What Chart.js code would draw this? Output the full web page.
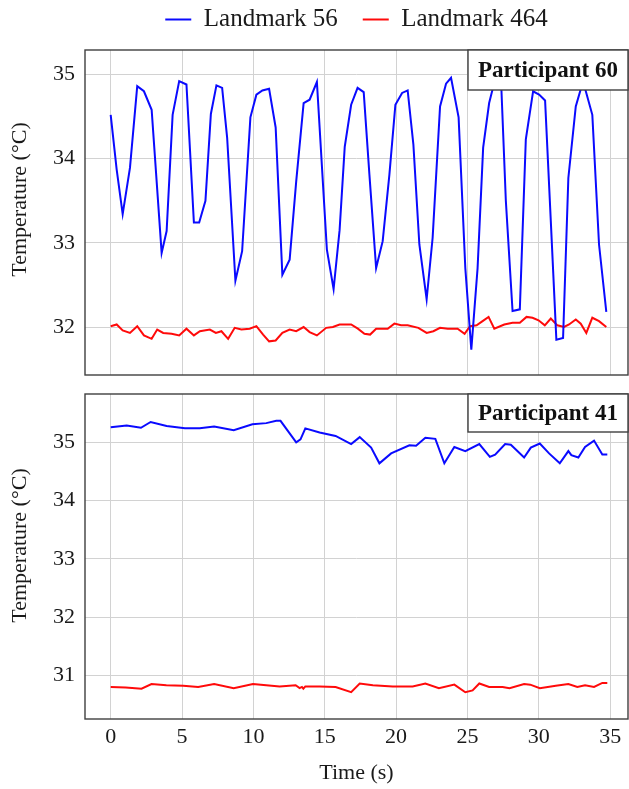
<!DOCTYPE html>
<html>
<head>
<meta charset="utf-8">
<title>Landmark temperatures</title>
<script src="https://cdn.jsdelivr.net/npm/chart.js@4.4.1/dist/chart.umd.min.js"></script>
<style>
    html, body { margin: 0; padding: 0; background: #fff; }
    body { position: relative; width: 629px; height: 789px; overflow: hidden; }
    .panel { position: absolute; left: 0; width: 629px; }
    #panel-top { top: -18px; height: 394px; }
    #panel-bottom { top: 380px; height: 409px; }
</style>
</head>
<body>
<div class="panel" id="panel-top"><canvas id="p60" width="629" height="394"></canvas></div>
<div class="panel" id="panel-bottom"><canvas id="p41" width="629" height="409"></canvas></div>
<script>
const timeTicks = [0, 5, 10, 15, 20, 25, 30, 35];
const p60Ticks = [32, 33, 34, 35];
const p41Ticks = [31, 32, 33, 34, 35];

// Participant 60
const p60Time56 = [0, 0.42, 0.84, 1.35, 1.86, 2.33, 2.87, 3.57, 3.92, 4.34, 4.80, 5.31, 5.83, 6.20, 6.64, 7.02, 7.41, 7.81, 8.16, 8.74,
    9.21, 9.79, 10.21, 10.63, 11.10, 11.56, 12.03, 12.54, 13.00, 13.52, 13.94, 14.45, 15.15, 15.62, 16.04, 16.40, 16.85, 17.30, 17.73,
    18.13, 18.60, 19.06, 19.53, 19.95, 20.42, 20.81, 21.21, 21.63, 22.14, 22.56, 23.08, 23.50, 23.85, 24.38, 24.85, 25.27, 25.71, 26.10,
    26.52, 26.95, 27.38, 27.69, 28.16, 28.67, 29.09, 29.60, 30.02, 30.44, 30.84, 31.23, 31.70, 32.07, 32.59, 33.10, 33.75, 34.22, 34.73];
const p60Temp56 = [34.52, 33.87, 33.34, 33.89, 34.86, 34.80, 34.58, 32.88, 33.14, 34.52, 34.92, 34.88, 33.24, 33.24, 33.50, 34.53, 34.87,
    34.84, 34.25, 32.55, 32.90, 34.49, 34.76, 34.81, 34.83, 34.37, 32.62, 32.80, 33.73, 34.66, 34.70, 34.91, 32.92, 32.45, 33.15, 34.14,
    34.64, 34.84, 34.79, 33.81, 32.70, 33.02, 33.81, 34.64, 34.78, 34.81, 34.17, 32.98, 32.33, 33.06, 34.62, 34.89, 34.96, 34.49, 32.70,
    31.73, 32.70, 34.13, 34.66, 34.95, 34.82, 33.50, 32.19, 32.21, 34.23, 34.80, 34.76, 34.69, 33.26, 31.85, 31.87, 33.77, 34.62, 34.92,
    34.52, 32.98, 32.18];
const p60Time464 = [0, 0.42, 0.84, 1.35, 1.86, 2.33, 2.87, 3.26, 3.68, 4.27, 4.80, 5.31, 5.83, 6.25, 6.95, 7.37, 7.76, 8.23, 8.69, 9.16,
    9.74, 10.21, 10.68, 11.10, 11.56, 12.03, 12.54, 13.00, 13.52, 13.94, 14.45, 15.10, 15.57, 16.04, 16.85, 17.32, 17.78, 18.18, 18.60,
    19.41, 19.88, 20.35, 20.81, 21.56, 22.14, 22.61, 23.08, 23.62, 24.31, 24.80, 25.18, 25.64, 26.06, 26.48, 26.88, 27.58, 28.16, 28.67,
    29.14, 29.56, 29.98, 30.42, 30.84, 31.30, 31.77, 32.12, 32.59, 32.94, 33.33, 33.75, 34.22, 34.73];
const p60Temp464 = [32.01, 32.03, 31.96, 31.93, 32.01, 31.90, 31.86, 31.97, 31.93, 31.92, 31.90, 31.98, 31.90, 31.95, 31.97, 31.93, 31.95,
    31.86, 31.99, 31.97, 31.98, 32.01, 31.91, 31.83, 31.84, 31.93, 31.97, 31.95, 32.00, 31.94, 31.90, 31.99, 32.00, 32.03, 32.03, 31.98,
    31.92, 31.91, 31.98, 31.98, 32.04, 32.02, 32.02, 31.99, 31.93, 31.95, 31.99, 31.98, 31.98, 31.92, 32.01, 32.02, 32.07, 32.12, 31.98,
    32.03, 32.05, 32.05, 32.12, 32.11, 32.08, 32.02, 32.10, 32.02, 32.00, 32.03, 32.09, 32.04, 31.93, 32.11, 32.07, 32.00];

// Participant 41
const p41Time56 = [0, 1.12, 2.12, 2.80, 3.92, 5.20, 6.24, 7.25, 8.62, 9.93, 10.90, 11.60, 11.90, 13.00, 13.30, 13.64, 14.64, 15.76,
    16.85, 17.45, 18.25, 18.83, 19.65, 20.93, 21.40, 22.05, 22.75, 23.38, 24.08, 24.85, 25.83, 26.57, 26.94, 27.64, 28.04, 28.97, 29.44,
    30.07, 30.72, 31.47, 32.07, 32.28, 32.77, 33.24, 33.87, 34.45, 34.80];
const p41Temp56 = [35.26, 35.29, 35.25, 35.35, 35.28, 35.24, 35.24, 35.27, 35.21, 35.31, 35.33, 35.37, 35.37, 35.00, 35.05, 35.24, 35.17,
    35.11, 34.97, 35.09, 34.91, 34.64, 34.81, 34.95, 34.94, 35.08, 35.06, 34.64, 34.92, 34.85, 34.97, 34.75, 34.79, 34.97, 34.96, 34.74,
    34.91, 34.98, 34.81, 34.64, 34.85, 34.78, 34.74, 34.92, 35.03, 34.79, 34.79];
const p41Time464 = [0, 1.05, 2.16, 2.86, 3.90, 5.08, 6.13, 7.25, 8.62, 9.97, 10.90, 11.84, 12.96, 13.24, 13.40, 13.50, 13.64, 14.64,
    15.76, 16.85, 17.45, 18.37, 19.76, 21.16, 22.05, 23.00, 24.08, 24.85, 25.36, 25.83, 26.52, 27.46, 27.95, 28.97, 29.40, 30.07, 31.19,
    32.07, 32.70, 33.24, 33.87, 34.45, 34.80];
const p41Temp464 = [30.80, 30.79, 30.77, 30.85, 30.83, 30.82, 30.80, 30.85, 30.78, 30.85, 30.83, 30.81, 30.83, 30.78, 30.80, 30.77, 30.81,
    30.81, 30.80, 30.71, 30.86, 30.83, 30.81, 30.81, 30.86, 30.78, 30.84, 30.71, 30.74, 30.86, 30.80, 30.80, 30.78, 30.85, 30.84, 30.78,
    30.82, 30.85, 30.80, 30.83, 30.80, 30.87, 30.87];

const FONT = "'Liberation Serif', 'DejaVu Serif', serif";
const INK = '#1a1a1a';
const GRID = '#d2d2d2';

Chart.defaults.font.family = FONT;
Chart.defaults.color = INK;

const toPoints = (times, temps) => times.map((t, i) => ({ x: t, y: temps[i] }));

const series = (label, color, times, temps) => ({
    label,
    data: toPoints(times, temps),
    borderColor: color,
    backgroundColor: color,
    borderWidth: 2,
    pointRadius: 0,
    tension: 0,
});

// frame around the plot area, the rotated y title and the boxed participant tag
const panelFramePlugin = {
    id: 'panelFrame',
    afterDraw(chart, args, options) {
        const { ctx, chartArea } = chart;
        const { left, top, right, bottom } = chartArea;

        ctx.save();
        ctx.strokeStyle = '#3f3f3f';
        ctx.lineWidth = 1.4;
        ctx.strokeRect(left, top, right - left, bottom - top);

        if (options.yTitle) {
            ctx.save();
            ctx.translate(20, (top + bottom) / 2 - (options.yTitleShift ?? 0));
            ctx.rotate(-Math.PI / 2);
            ctx.fillStyle = INK;
            ctx.font = `22px ${FONT}`;
            ctx.textAlign = 'center';
            ctx.textBaseline = 'middle';
            ctx.fillText(options.yTitle, 0, 0);
            ctx.restore();
        }

        if (options.text) {
            const w = options.width ?? 160;
            const h = options.height ?? 40;
            const x = right - w;
            ctx.fillStyle = '#fff';
            ctx.fillRect(x, top, w, h);
            ctx.strokeRect(x, top, w, h);
            ctx.fillStyle = '#111';
            ctx.font = `bold 23px ${FONT}`;
            ctx.textAlign = 'center';
            ctx.textBaseline = 'middle';
            ctx.fillText(options.text, x + w / 2, top + h / 2 + 1);
        }
        ctx.restore();
    },
};

const fixedTicks = (values) => (axis) => {
    axis.ticks = values.map((value) => ({ value }));
};

const yAxis = (min, max, ticks) => ({
    type: 'linear',
    min,
    max,
    afterBuildTicks: fixedTicks(ticks),
    afterFit(axis) {
        axis.width = 85;
        axis.paddingTop = 0;
        axis.paddingBottom = 0;
    },
    grid: { color: GRID, lineWidth: 1, drawTicks: false },
    border: { display: false },
    ticks: { padding: 10, font: { size: 22 }, color: INK },
});

const baseOptions = {
    responsive: false,
    animation: false,
    events: [],
    plugins: {
        tooltip: { enabled: false },
    },
};

new Chart(document.getElementById('p60').getContext('2d'), {
    type: 'line',
    data: {
        datasets: [
            series('Landmark 56', '#0a0aff', p60Time56, p60Temp56),
            series('Landmark 464', '#ff0a0a', p60Time464, p60Temp464),
        ],
    },
    options: {
        ...baseOptions,
        layout: { padding: { left: 0, right: 1, top: 0, bottom: 1 } },
        scales: {
            x: {
                type: 'linear',
                position: 'top',
                min: -1.8,
                max: 36.25,
                afterBuildTicks: fixedTicks(timeTicks),
                afterFit(axis) {
                    axis.height = 8;
                    axis.paddingLeft = 0;
                    axis.paddingRight = 0;
                },
                grid: { color: GRID, lineWidth: 1, drawTicks: false },
                border: { display: false },
                ticks: { display: false },
            },
            y: yAxis(31.43, 35.29, p60Ticks),
        },
        plugins: {
            ...baseOptions.plugins,
            legend: {
                position: 'top',
                align: 'center',
                fullSize: false,
                labels: {
                    usePointStyle: true,
                    pointStyle: 'line',
                    pointStyleWidth: 26,
                    padding: 25,
                    color: INK,
                    font: { size: 25 },
                },
            },
            panelFrame: { text: 'Participant 60', width: 160, height: 40, yTitle: 'Temperature (°C)', yTitleShift: 13 },
        },
    },
    plugins: [panelFramePlugin],
});

new Chart(document.getElementById('p41').getContext('2d'), {
    type: 'line',
    data: {
        datasets: [
            series('Landmark 56', '#0a0aff', p41Time56, p41Temp56),
            series('Landmark 464', '#ff0a0a', p41Time464, p41Temp464),
        ],
    },
    options: {
        ...baseOptions,
        layout: { padding: { left: 0, right: 1, top: 14, bottom: 0 } },
        scales: {
            x: {
                type: 'linear',
                position: 'bottom',
                min: -1.8,
                max: 36.25,
                afterBuildTicks: fixedTicks(timeTicks),
                afterFit(axis) {
                    axis.height = 70;
                    axis.paddingLeft = 0;
                    axis.paddingRight = 0;
                },
                grid: { color: GRID, lineWidth: 1, drawTicks: false },
                border: { display: false },
                ticks: { padding: 5, font: { size: 22 }, color: INK, maxRotation: 0 },
                title: {
                    display: true,
                    text: 'Time (s)',
                    font: { size: 22 },
                    color: INK,
                    padding: { top: 0, bottom: 3 },
                },
            },
            y: yAxis(30.25, 35.83, p41Ticks),
        },
        plugins: {
            ...baseOptions.plugins,
            legend: { display: false },
            panelFrame: { text: 'Participant 41', width: 160, height: 38, yTitle: 'Temperature (°C)', yTitleShift: 11 },
        },
    },
    plugins: [panelFramePlugin],
});
</script>
</body>
</html>
